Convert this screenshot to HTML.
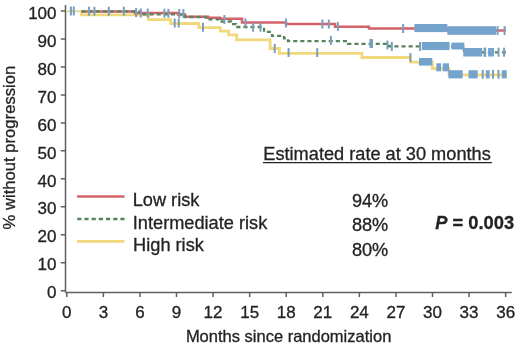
<!DOCTYPE html>
<html><head><meta charset="utf-8"><style>
html,body{margin:0;padding:0;background:#fff;}
body{width:520px;height:344px;overflow:hidden;}
svg{display:block;filter:blur(0.5px);}
text{font-family:"Liberation Sans",sans-serif;fill:#232323;stroke:#232323;stroke-width:0.3px;}
.tl{font-size:17px;}
.at{font-size:16.5px;}
.lg{font-size:18.2px;}
.pv{font-size:18.3px;font-weight:bold;}
</style></head><body>
<svg width="520" height="344" viewBox="0 0 520 344">
<path d="M65.5,5 V292.4 M65.5,292.4 H511.8" stroke="#5f5f5f" stroke-width="1.5" fill="none"/>
<path d="M60.8,290.70 H65.5 M60.8,262.73 H65.5 M60.8,234.76 H65.5 M60.8,206.79 H65.5 M60.8,178.82 H65.5 M60.8,150.85 H65.5 M60.8,122.88 H65.5 M60.8,94.91 H65.5 M60.8,66.94 H65.5 M60.8,38.97 H65.5 M60.8,11.00 H65.5 M66.80,292.4 V297 M103.37,292.4 V297 M139.94,292.4 V297 M176.51,292.4 V297 M213.08,292.4 V297 M249.65,292.4 V297 M286.22,292.4 V297 M322.79,292.4 V297 M359.36,292.4 V297 M395.93,292.4 V297 M432.50,292.4 V297 M469.07,292.4 V297 M505.64,292.4 V297" stroke="#5f5f5f" stroke-width="1.5" fill="none"/>
<text x="56.5" y="298.40" text-anchor="end" class="tl">0</text>
<text x="56.5" y="270.43" text-anchor="end" class="tl">10</text>
<text x="56.5" y="242.46" text-anchor="end" class="tl">20</text>
<text x="56.5" y="214.49" text-anchor="end" class="tl">30</text>
<text x="56.5" y="186.52" text-anchor="end" class="tl">40</text>
<text x="56.5" y="158.55" text-anchor="end" class="tl">50</text>
<text x="56.5" y="130.58" text-anchor="end" class="tl">60</text>
<text x="56.5" y="102.61" text-anchor="end" class="tl">70</text>
<text x="56.5" y="74.64" text-anchor="end" class="tl">80</text>
<text x="56.5" y="46.67" text-anchor="end" class="tl">90</text>
<text x="56.5" y="18.70" text-anchor="end" class="tl">100</text>
<text x="66.80" y="318.2" text-anchor="middle" class="tl">0</text>
<text x="103.37" y="318.2" text-anchor="middle" class="tl">3</text>
<text x="139.94" y="318.2" text-anchor="middle" class="tl">6</text>
<text x="176.51" y="318.2" text-anchor="middle" class="tl">9</text>
<text x="213.08" y="318.2" text-anchor="middle" class="tl">12</text>
<text x="249.65" y="318.2" text-anchor="middle" class="tl">15</text>
<text x="286.22" y="318.2" text-anchor="middle" class="tl">18</text>
<text x="322.79" y="318.2" text-anchor="middle" class="tl">21</text>
<text x="359.36" y="318.2" text-anchor="middle" class="tl">24</text>
<text x="395.93" y="318.2" text-anchor="middle" class="tl">27</text>
<text x="432.50" y="318.2" text-anchor="middle" class="tl">30</text>
<text x="469.07" y="318.2" text-anchor="middle" class="tl">33</text>
<text x="505.64" y="318.2" text-anchor="middle" class="tl">36</text>
<text x="288.6" y="341.7" text-anchor="middle" class="at">Months since randomization</text>
<text transform="translate(14.8,147.6) rotate(-90)" x="0" y="0" text-anchor="middle" class="at" style="font-size:16.65px">% without progression</text>
<path d="M66,11.3 H82" stroke="#dcd68e" stroke-width="1.8" fill="none"/>
<path d="M81.5,11.4 V14.9 H148.5 V19.6 H170.7 V23.5 H198.8 V27.6 H220.4 V31.2 H228.7 V34.8 H236.7 V39.9 H270.1 V48.5 H279.4 V53.3 H362 V57.5 H410.4 V62.2 H432.3 V68.5 H449 V74.8 H507" stroke="#f1d87a" stroke-width="2.8" fill="none"/>
<path d="M81.5,11.4 H135 V12.9 H178 V14.5 H185 V16.8 H208 V17.7 H220 V18.8 H242 V22.4 H286 V24.1 H335 V26.8 H369 V28.5 H447 V30.5 H506" stroke="#d4626a" stroke-width="2.5" fill="none"/>
<path d="M81.5,11.4 H140 V14.3 H185 V17 H206 V19.3 H219 V21.5 H231 V24.2 H236 V27 H264 V31.9 H272 V35.9 H284 V38.3 H288 V41.1 H348 V43.8 H389 V46.4 H464 V52.4 H506" stroke="#5a835c" stroke-width="2.3" fill="none" stroke-dasharray="4.1 3"/>
<g fill="#74a4cc"><rect x="69.90" y="6.50" width="2" height="9" fill="#7a9fbd"/><rect x="72.80" y="6.50" width="2" height="9" fill="#7a9fbd"/><rect x="88.10" y="6.70" width="2" height="9" fill="#7a9fbd"/><rect x="93.40" y="6.70" width="2" height="9" fill="#7a9fbd"/><rect x="107.80" y="6.70" width="2" height="9" fill="#7a9fbd"/><rect x="122.80" y="6.70" width="2" height="9" fill="#7a9fbd"/><rect x="135.10" y="8.00" width="2" height="9" fill="#7a9fbd"/><rect x="139.80" y="8.50" width="2" height="9" fill="#7a9fbd"/><rect x="146.70" y="8.50" width="2" height="9" fill="#7a9fbd"/><rect x="163.40" y="8.70" width="2" height="9" fill="#7a9fbd"/><rect x="167.40" y="8.80" width="2" height="9" fill="#7a9fbd"/><rect x="178.30" y="9.00" width="2" height="9" fill="#7a9fbd"/><rect x="182.40" y="9.00" width="2" height="9" fill="#7a9fbd"/><rect x="223.40" y="15.00" width="2" height="9" fill="#7a9fbd"/><rect x="244.40" y="18.30" width="2" height="9" fill="#7a9fbd"/><rect x="285.00" y="18.50" width="2" height="9" fill="#7a9fbd"/><rect x="321.40" y="19.60" width="2" height="9" fill="#7a9fbd"/><rect x="327.80" y="19.60" width="2" height="9" fill="#7a9fbd"/><rect x="336.90" y="22.00" width="2" height="9" fill="#7a9fbd"/><rect x="402.10" y="24.00" width="2" height="9" fill="#7a9fbd"/><rect x="252.10" y="22.70" width="2" height="9" fill="#7a9fbd"/><rect x="259.40" y="22.70" width="2" height="9" fill="#7a9fbd"/><rect x="329.90" y="35.90" width="2" height="9" fill="#7a9fbd"/><rect x="369.40" y="38.90" width="2" height="9" fill="#7a9fbd"/><rect x="371.00" y="39.10" width="2" height="9" fill="#7a9fbd"/><rect x="386.40" y="40.50" width="2" height="9" fill="#7a9fbd"/><rect x="390.80" y="42.00" width="2" height="9" fill="#7a9fbd"/><rect x="419.10" y="42.00" width="2" height="9" fill="#7a9fbd"/><rect x="173.70" y="18.50" width="2" height="9" fill="#7a9fbd"/><rect x="177.70" y="18.50" width="2" height="9" fill="#7a9fbd"/><rect x="202.00" y="22.80" width="2" height="9" fill="#7a9fbd"/><rect x="273.70" y="44.00" width="2" height="9" fill="#7a9fbd"/><rect x="287.60" y="48.00" width="2" height="9" fill="#7a9fbd"/><rect x="316.20" y="48.00" width="2" height="9" fill="#7a9fbd"/><rect x="409.40" y="53.00" width="2" height="9" fill="#7a9fbd"/><rect x="496.60" y="26.00" width="2" height="9" fill="#7a9fbd"/><rect x="503.60" y="26.00" width="2" height="9" fill="#7a9fbd"/><rect x="497.50" y="47.70" width="2" height="9" fill="#7a9fbd"/><rect x="503.10" y="47.70" width="2" height="9" fill="#7a9fbd"/><rect x="483.50" y="47.70" width="2" height="9" fill="#7a9fbd"/><rect x="484.20" y="47.70" width="2" height="9" fill="#7a9fbd"/><rect x="481.70" y="69.80" width="2" height="9" fill="#7a9fbd"/><rect x="492.00" y="69.80" width="2" height="9" fill="#7a9fbd"/><rect x="497.50" y="69.80" width="2" height="9" fill="#7a9fbd"/><rect x="414.40" y="24.00" width="32.90" height="8.10"/><rect x="447.30" y="26.20" width="48.70" height="8.60"/><rect x="421.90" y="42.00" width="27.70" height="8.10"/><rect x="451.50" y="42.60" width="12.90" height="6.90"/><rect x="463.30" y="48.00" width="18.90" height="8.50"/><rect x="488.10" y="48.00" width="5.90" height="8.50"/><rect x="419.00" y="58.00" width="13.30" height="7.60"/><rect x="436.30" y="63.30" width="4.70" height="8.00"/><rect x="442.70" y="63.30" width="6.30" height="8.00"/><rect x="448.40" y="70.20" width="14.30" height="8.20"/><rect x="468.50" y="70.20" width="9.20" height="8.20"/><rect x="485.80" y="70.20" width="3.90" height="8.20"/><rect x="501.80" y="70.20" width="4.90" height="8.20"/></g>
<path d="M77.1,196.5 H124.5" stroke="#d4626a" stroke-width="2.5"/>
<path d="M77.2,219 H124.6" stroke="#5a835c" stroke-width="2.4" stroke-dasharray="4.2 3"/>
<path d="M77,241.3 H124.5" stroke="#f1d87a" stroke-width="2.8"/>
<text x="132.7" y="205.9" class="lg">Low risk</text>
<text x="132.8" y="228.7" class="lg">Intermediate risk</text>
<text x="133.1" y="251.3" class="lg">High risk</text>
<text x="351.9" y="206.7" class="lg">94%</text>
<text x="351.9" y="230.8" class="lg">88%</text>
<text x="351.9" y="255.5" class="lg">80%</text>
<text x="263.3" y="160" class="lg">Estimated rate at 30 months</text>
<path d="M262.9,162.6 H491.9" stroke="#232323" stroke-width="1.4"/>
<text x="435.3" y="229" class="pv"><tspan font-style="italic">P</tspan> = 0.003</text>
</svg>
</body></html>
